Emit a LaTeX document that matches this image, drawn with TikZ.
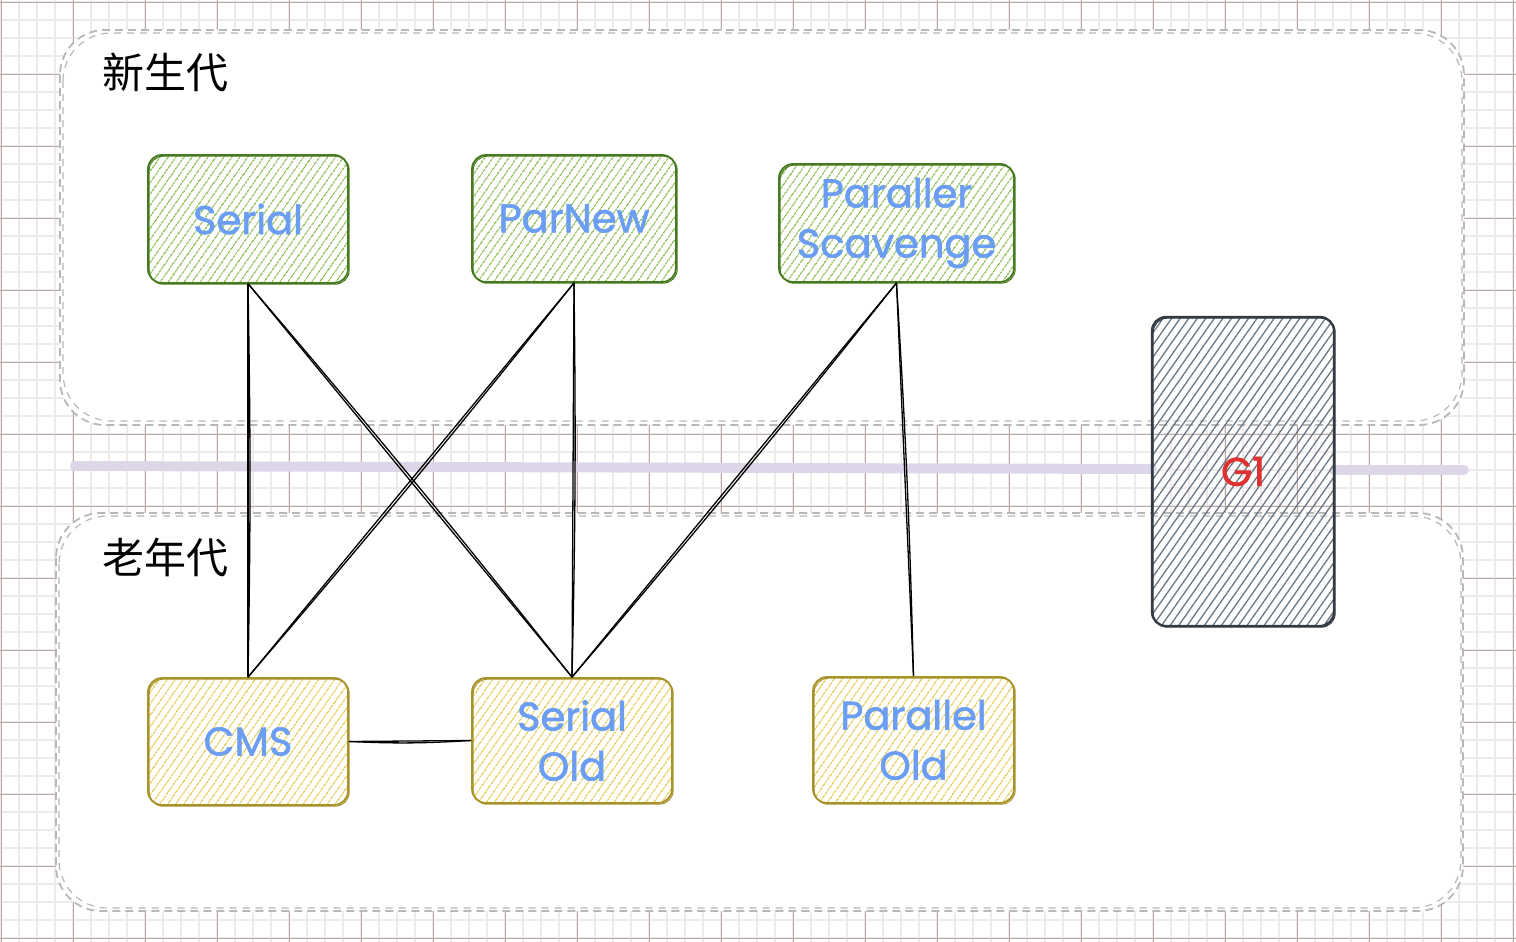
\documentclass[tikz,border=0pt]{standalone}
\usepackage{fontspec}
\setmainfont{Poppins}
\newfontfamily\boxfont{Poppins}[FakeBold=1.5]
\newfontfamily\cjk{Noto Sans CJK SC}
\usetikzlibrary{patterns.meta}
\definecolor{gridminor}{HTML}{F0EBEB}
\definecolor{gridmajor}{HTML}{B9A9A6}
\definecolor{contgray}{HTML}{B8B8B8}
\definecolor{bandpurple}{HTML}{DDD6E8}
\definecolor{greenstroke}{HTML}{467A20}
\definecolor{greenhatch}{HTML}{7DB63A}
\definecolor{yellowstroke}{HTML}{A8922A}
\definecolor{yellowhatch}{HTML}{E2C43E}
\definecolor{slatestroke}{HTML}{323A44}
\definecolor{slatehatch}{HTML}{6B7783}
\definecolor{textblue}{HTML}{6B9EF3}
\definecolor{gred}{HTML}{E03131}
\tikzset{
  box/.style={draw, line width=1.8pt, rounded corners=14pt, inner sep=0pt,
    align=center, text=textblue, font=\boxfont\fontsize{40}{50}\selectfont,
    postaction={draw, line width=1pt, transform canvas={shift={(1.2pt,-1.2pt)}}}},
  youngbox/.style={box, draw=greenstroke,
    pattern={Lines[angle=55,distance=6.5pt,line width=1.3pt]}, pattern color=greenhatch},
  oldbox/.style={box, draw=yellowstroke,
    pattern={Lines[angle=55,distance=6.5pt,line width=1.3pt]}, pattern color=yellowhatch},
  gonebox/.style={box, draw=slatestroke, line width=2.3pt,
    pattern={Lines[angle=55,distance=7pt,line width=1.3pt]}, pattern color=slatehatch,
    text=gred, font=\boxfont\fontsize{40}{46}\selectfont},
  conn/.style={draw=black, line width=1.3pt},
  container/.style={draw=contgray, fill=white, line width=1.8pt, dash pattern=on 8pt off 5pt, rounded corners=45pt},
  container2/.style={draw=contgray, line width=1.2pt, dash pattern=on 7pt off 6pt, rounded corners=48pt},
  genlabel/.style={font=\cjk\fontsize{42}{46}\selectfont, text=black, inner sep=0pt},
}
\begin{document}
\begin{tikzpicture}[x=1pt,y=-1pt]
\useasboundingbox (0,0) rectangle (1516,942);
\fill[white] (0,0) rectangle (1516,942);
% grid
\foreach \x in {1,19,...,1515} \draw[gridminor, line width=1.6pt] (\x,0) -- (\x,942);
\foreach \y in {2,20,...,941} \draw[gridminor, line width=1.6pt] (0,\y) -- (1516,\y);
\foreach \x in {1,73,...,1515} \draw[gridmajor, line width=0.7pt] (\x,0) -- (\x,942);
\foreach \y in {2,74,...,941} \draw[gridmajor, line width=0.7pt] (0,\y) -- (1516,\y);
% containers
\path[container] (60,30) rectangle (1464,425);
\path[container2] (63,33) rectangle (1462,421);
\path[container] (56,513) rectangle (1463,911);
\path[container2] (59,516) rectangle (1461,908);
% band
\draw[bandpurple, line width=10pt, line cap=round] (75,466) -- (1152,469);
\draw[bandpurple, line width=10pt, line cap=round] (1334,470) -- (1464,470);
% labels
\node[genlabel] (young) at (165,72) {新生代};
\node[genlabel] (old) at (165,557) {老年代};
% boxes
\node[youngbox, minimum width=200pt, minimum height=128pt] (ser) at (248,219) {Serial};
\node[youngbox, minimum width=204pt, minimum height=127pt] (pn) at (574,218.5) {ParNew};
\node[youngbox, minimum width=235pt, minimum height=118pt] (ps) at (896.5,223) {Paraller\\Scavenge};
\node[oldbox, minimum width=200pt, minimum height=127pt] (cms) at (248,741.5) {CMS};
\node[oldbox, minimum width=200pt, minimum height=125pt] (so) at (572,740.5) {Serial\\Old};
\node[oldbox, minimum width=201pt, minimum height=126pt] (po) at (913.5,740) {Parallel\\Old};
\node[gonebox, minimum width=182pt, minimum height=309pt] (g1) at (1243,471.5) {G1};
% connectors
\foreach \a/\b in {ser/cms, ser/so, pn/cms, pn/so, ps/so, ps/po} {
  \draw[conn] (\a.south) -- (\b.north);
  \draw[conn] (\a.south) to[bend left=1] (\b.north);
}
\draw[conn] (cms.east) -- (so.west);
\draw[conn] (cms.east) to[bend right=3] (so.west);
\end{tikzpicture}
\end{document}
